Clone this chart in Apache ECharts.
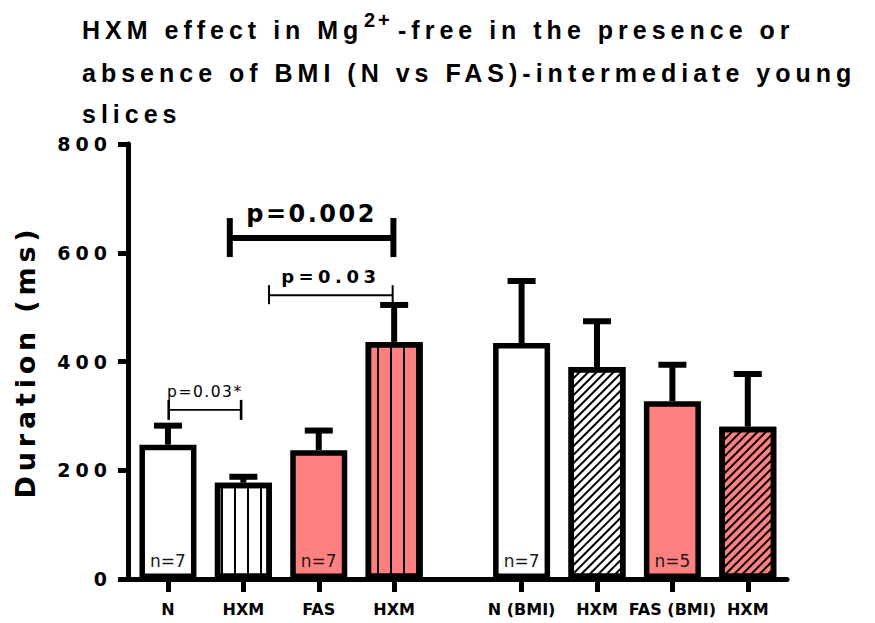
<!DOCTYPE html>
<html>
<head>
<meta charset="utf-8">
<script src="https://cdn.jsdelivr.net/npm/echarts@6/dist/echarts.min.js"></script>
<style>
  html, body { margin: 0; padding: 0; background: #fff; }
  #chart { width: 875px; height: 623px; }
  /* GraphPad-style tracking for each text role (keyed on font size) */
  #chart text[style*="25px"] { letter-spacing: 5px; }
  #chart text[style*="20px"] { letter-spacing: 3px; }
  #chart text[style*="27px"] { letter-spacing: 4.8px; }
  #chart text[style*="19px"] { letter-spacing: 5px; }
  #chart text[style*="24px"] { letter-spacing: 2.5px; }
  #chart text[style*="18px"] { letter-spacing: 4.5px; }
  #chart text[style*="15.5px"] { letter-spacing: 1.5px; }
</style>
</head>
<body>
<div id="chart"></div>
<script>
// ---- data ----
const categories = ['N', 'HXM', 'FAS', 'HXM', 'N (BMI)', 'HXM', 'FAS (BMI)', 'HXM'];
const durationMean = [247, 177, 237, 436, 434, 390, 327, 280];
const durationSem = [35, 11, 36, 68, 114, 84, 67, 97];
const sampleSizes = ['n=7', '', 'n=7', '', 'n=7', '', 'n=5', ''];
const yTicks = [0, 200, 400, 600, 800];
// significance brackets: ends in bar-slot units, level in ms
const comparisonLabels = ['p=0.002', 'p=0.03', 'p=0.03*'];
const comparisonFrom = [0.82, 1.34, 0.01];
const comparisonTo = [2.99, 2.98, 0.97];
const comparisonLevel = [627, 522, 311];

// ---- layout & styles ----
const GROUP_GAP = 0.69;               // extra space between the -BMI and +BMI groups
const slotX = i => i + (i >= 4 ? GROUP_GAP : 0);
const RED = '#FF8080';
const fills = ['#fff', '#fff', RED, RED, '#fff', '#fff', RED, RED];
const vertical = { symbol: 'rect', symbolSize: 1, dashArrayX: [2, 11], dashArrayY: [10, 0], color: '#000', rotation: 0 };
const diagonal = { symbol: 'rect', symbolSize: 1, dashArrayX: [2, 4], dashArrayY: [10, 0], color: '#000', rotation: Math.PI / 4 };
const patterns = [null, vertical, null, vertical, null, diagonal, null, diagonal];
const bracketStyles = [
  { lw: 6, endLw: 6, up: 20, down: 19, font: 'bold 24px "DejaVu Sans"', textDy: 24 },
  { lw: 2, endLw: 2, up: 10, down: 9, font: 'bold 18px "DejaVu Sans"', textDy: 18.5 },
  { lw: 1.7, endLw: 2.6, up: 10, down: 10, font: 'normal 15.5px "DejaVu Sans"', textDy: 17.5 }
];

const xMin = -0.53, xMax = 8.21;

const barData = durationMean.map((v, i) => {
  const item = { value: [slotX(i), v], itemStyle: { color: fills[i] } };
  if (patterns[i]) item.itemStyle.decal = patterns[i];
  return item;
});
const errData = durationMean.map((v, i) => [slotX(i), v, durationSem[i]]);
const bracketData = comparisonLabels.map((t, i) => ({ name: t, value: [comparisonFrom[i], comparisonTo[i], comparisonLevel[i], i] }));

const labelFor = v => {
  for (let i = 0; i < categories.length; i++) if (Math.abs(slotX(i) - v) < 1e-6) return categories[i];
  return '';
};

const titleText = { fontFamily: '"Liberation Sans", Arial, sans-serif', fontWeight: 'bold', fontSize: 25, color: '#000', lineHeight: 30 };

const chart = echarts.init(document.getElementById('chart'), null, { renderer: 'svg' });
chart.setOption({
  animation: false,
  backgroundColor: '#fff',
  title: [
    { text: 'HXM effect in Mg', left: 82, top: 15, padding: 0, textStyle: titleText },
    { text: '2+', left: 364, top: 10, padding: 0, textStyle: Object.assign({}, titleText, { fontSize: 20, lineHeight: 20 }) },
    { text: '-free in the presence or', left: 398, top: 15, padding: 0, textStyle: titleText },
    { text: 'absence of BMI (N vs FAS)-intermediate young\nslices', left: 82, top: 52, padding: 0,
      textStyle: Object.assign({}, titleText, { lineHeight: 41 }) }
  ],
  grid: { left: 128, right: 88, top: 144, bottom: 44, containLabel: false },
  xAxis: {
    type: 'value', min: xMin, max: xMax,
    splitLine: { show: false },
    axisLine: { show: true, onZero: false, lineStyle: { color: '#000', width: 5 } },
    axisTick: { show: true, length: 13, lineStyle: { color: '#000', width: 5 },
      customValues: categories.map((c, i) => slotX(i)) },
    axisLabel: { show: true, margin: 22, customValues: categories.map((c, i) => slotX(i)),
      formatter: v => labelFor(v),
      fontFamily: '"DejaVu Sans"', fontWeight: 'bold', fontSize: 16, color: '#000' }
  },
  yAxis: {
    type: 'value', min: yTicks[0], max: yTicks[yTicks.length - 1], interval: yTicks[1] - yTicks[0],
    name: 'Duration (ms)', nameLocation: 'middle', nameGap: 89,
    nameTextStyle: { fontFamily: '"DejaVu Sans"', fontWeight: 'bold', fontSize: 27, color: '#000' },
    splitLine: { show: false },
    axisLine: { show: true, onZero: false, lineStyle: { color: '#000', width: 5 } },
    axisTick: { show: true, length: 10, lineStyle: { color: '#000', width: 5 } },
    axisLabel: { margin: 16, fontFamily: '"DejaVu Sans"', fontWeight: 'bold', fontSize: 19, color: '#000' }
  },
  series: [
    {
      type: 'bar', data: barData, barWidth: 57, z: 3,
      itemStyle: { borderColor: '#000', borderWidth: 5.5 },
      label: { show: true, position: 'insideBottom', distance: 10,
        formatter: p => sampleSizes[p.dataIndex],
        fontFamily: '"DejaVu Sans"', fontSize: 17, color: '#1a1a1a' }
    },
    {
      type: 'custom', data: errData, z: 4,
      renderItem: (params, api) => {
        const x = api.value(0), v = api.value(1), e = api.value(2);
        const p0 = api.coord([x, v]);
        const p1 = api.coord([x, v + e]);
        const st = { stroke: '#000', lineWidth: 6 };
        return { type: 'group', children: [
          { type: 'line', shape: { x1: p0[0], y1: p0[1], x2: p1[0], y2: p1[1] }, style: st },
          { type: 'line', shape: { x1: p1[0] - 14, y1: p1[1], x2: p1[0] + 14, y2: p1[1] }, style: st }
        ] };
      }
    },
    {
      type: 'custom', data: bracketData, z: 5,
      renderItem: (params, api) => {
        const a = api.coord([api.value(0), api.value(2)]);
        const b = api.coord([api.value(1), api.value(2)]);
        const s = bracketStyles[api.value(3)];
        const line = { stroke: '#000', lineWidth: s.lw };
        const end = { stroke: '#000', lineWidth: s.endLw };
        return { type: 'group', children: [
          { type: 'line', shape: { x1: a[0], y1: a[1], x2: b[0], y2: b[1] }, style: line },
          { type: 'line', shape: { x1: a[0], y1: a[1] - s.up, x2: a[0], y2: a[1] + s.down }, style: end },
          { type: 'line', shape: { x1: b[0], y1: b[1] - s.up, x2: b[0], y2: b[1] + s.down }, style: end },
          { type: 'text', style: { text: comparisonLabels[params.dataIndex], x: (a[0] + b[0]) / 2, y: a[1] - s.textDy,
              font: s.font, fill: '#000', textAlign: 'center', textVerticalAlign: 'middle' } }
        ] };
      }
    }
  ]
});
</script>
</body>
</html>
